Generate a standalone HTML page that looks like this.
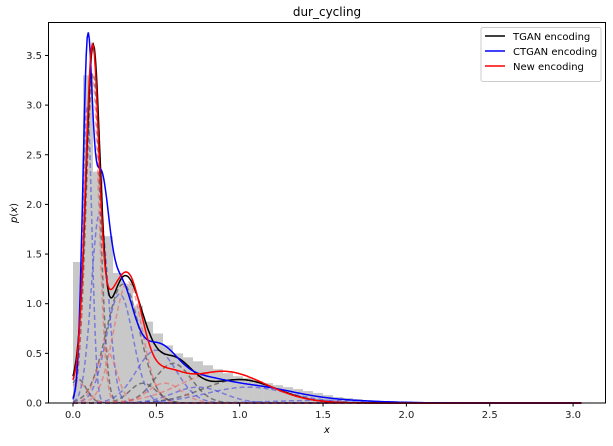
<!DOCTYPE html>
<html><head><meta charset="utf-8"><style>
body{margin:0;background:#fff;}
svg{font-family:"DejaVu Sans","Liberation Sans",sans-serif;}
</style></head><body>
<svg id="chart" width="613" height="441">
<text x="327" y="16" text-anchor="middle" font-size="12">dur_cycling</text>
<g id="hist"></g>
<g id="comps"></g>
<g id="lines"></g>
<rect x="48.5" y="22.5" width="557" height="380.5" fill="none" stroke="#000" stroke-width="1"/>
<g id="axes" font-size="10" fill="#222"></g>
<text x="327" y="433" text-anchor="middle" font-size="10" font-style="italic">x</text>
<text transform="translate(17,213) rotate(-90)" text-anchor="middle" font-size="10"><tspan font-style="italic">p</tspan>(<tspan font-style="italic">x</tspan>)</text>
<g>
<rect x="481" y="27.5" width="120" height="54" rx="2" fill="#fff" stroke="#ccc"/>
<line x1="485" y1="36" x2="505" y2="36" stroke="#000" stroke-width="1.5"/>
<text x="513" y="40" font-size="10">TGAN encoding</text>
<line x1="485" y1="51" x2="505" y2="51" stroke="#00f" stroke-width="1.5"/>
<text x="513" y="55" font-size="10">CTGAN encoding</text>
<line x1="485" y1="66" x2="505" y2="66" stroke="#f00" stroke-width="1.5"/>
<text x="513" y="70" font-size="10">New encoding</text>
</g>
</svg>
<script>
const histBinWidth = 0.06;
const histHeights = [1.42,3.3,2.33,1.68,1.31,1.2,0.98,0.82,0.7,0.58,0.5,0.46,0.42,0.38,0.34,0.3,0.27,0.25,0.22,0.2,0.18,0.16,0.14,0.12,0.1,0.08,0.06,0.05,0.04,0.03,0.02,0.015,0.01];
const tganMeans = [0.03,0.12,0.30,0.42,0.60,1.00];
const tganSds = [0.05,0.042,0.10,0.08,0.11,0.22];
const tganWeights = [0.03,0.35,0.30,0.04,0.11,0.13];
const ctganMeans = [0.085,0.16,0.28,0.50,0.75,1.05,1.50];
const ctganSds = [0.028,0.05,0.08,0.12,0.15,0.25,0.30];
const ctganWeights = [0.21,0.24,0.22,0.16,0.06,0.10,0.02];
const newMeans = [0.03,0.115,0.20,0.33,0.55,0.90];
const newSds = [0.06,0.04,0.06,0.085,0.10,0.25];
const newWeights = [0.03,0.33,0.08,0.26,0.05,0.20];
const xTicks = [0,0.5,1.0,1.5,2.0,2.5,3.0];
const yTicks = [0,0.5,1.0,1.5,2.0,2.5,3.0,3.5];

const NS="http://www.w3.org/2000/svg";
function X(v){return 73+v*166.7;}
function Y(v){return 403-v*99.3;}
function mk(tag,attrs,parent){const e=document.createElementNS(NS,tag);for(const k in attrs)e.setAttribute(k,attrs[k]);parent.appendChild(e);return e;}
function g(x,m,s,w){return w/(s*2.5066)*Math.exp(-0.5*((x-m)/s)**2);}

const hist=document.getElementById('hist');
histHeights.forEach((h,i)=>{
  const r=mk('rect',{x:X(i*histBinWidth),y:Y(h),width:X(histBinWidth)-X(0),height:Y(0)-Y(h),fill:'#c8c8c8'},hist);
  
  
});

const comps=document.getElementById('comps');
const lines=document.getElementById('lines');
const series=[
 {m:tganMeans,s:tganSds,w:tganWeights,c:'#000',dc:'rgba(60,60,60,0.6)',n:'tgan'},
 {m:ctganMeans,s:ctganSds,w:ctganWeights,c:'#00f',dc:'rgba(60,60,230,0.55)',n:'ctgan'},
 {m:newMeans,s:newSds,w:newWeights,c:'#f00',dc:'rgba(240,90,90,0.55)',n:'new'}];
const N=500, xmax=3.05;
series.forEach(se=>{
  se.m.forEach((m,k)=>{
    let d='';
    for(let i=0;i<=N;i++){const x=i/N*xmax;d+=(i?'L':'M')+X(x).toFixed(1)+','+Y(g(x,m,se.s[k],se.w[k])).toFixed(1);}
    const p=mk('path',{d:d,fill:'none',stroke:se.dc,'stroke-width':1.5,'stroke-dasharray':'5,3'},comps);
    
    
  });
});
series.forEach(se=>{
  let d='';
  for(let i=0;i<=N;i++){const x=i/N*xmax;let y=0;se.m.forEach((m,k)=>y+=g(x,m,se.s[k],se.w[k]));d+=(i?'L':'M')+X(x).toFixed(1)+','+Y(y).toFixed(1);}
  const p=mk('path',{d:d,fill:'none',stroke:se.c,'stroke-width':1.5},lines);
  
  
});

const axes=document.getElementById('axes');
xTicks.forEach(t=>{
  const l=mk('line',{x1:X(t),x2:X(t),y1:403,y2:406.5,stroke:'#000'},axes);
  
  
  const tx=mk('text',{x:X(t),y:418,'text-anchor':'middle'},axes);
  tx.textContent=t.toFixed(1);
  
  
});
yTicks.forEach(t=>{
  const l=mk('line',{x1:45,x2:48.5,y1:Y(t),y2:Y(t),stroke:'#000'},axes);
  
  
  const tx=mk('text',{x:42,y:Y(t)+3.5,'text-anchor':'end'},axes);
  tx.textContent=t.toFixed(1);
  
  
});
</script>
</body></html>
